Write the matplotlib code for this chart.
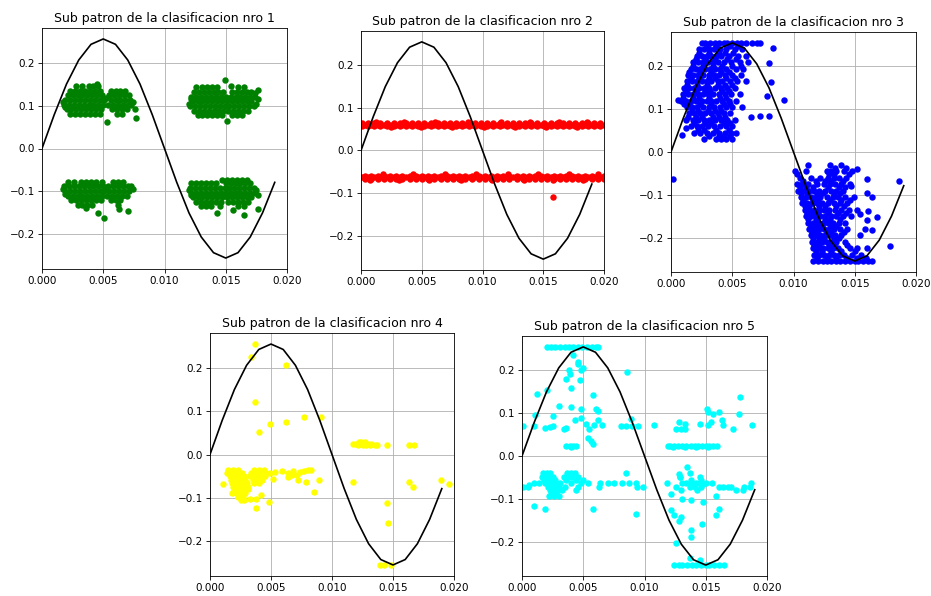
import matplotlib
matplotlib.use("Agg")
import matplotlib.pyplot as plt

# ---------------- reference signal ----------------
t = [0.000, 0.001, 0.002, 0.003, 0.004, 0.005, 0.006, 0.007, 0.008, 0.009,
     0.010, 0.011, 0.012, 0.013, 0.014, 0.015, 0.016, 0.017, 0.018, 0.019]
signal = [0.0, 0.0788, 0.150, 0.206, 0.2425, 0.255, 0.2425, 0.206, 0.150, 0.0788,
          0.0, -0.0788, -0.150, -0.206, -0.2425, -0.255, -0.2425, -0.206, -0.150, -0.0788]

titles = ["Sub patron de la clasificacion nro 1", "Sub patron de la clasificacion nro 2",
          "Sub patron de la clasificacion nro 3", "Sub patron de la clasificacion nro 4",
          "Sub patron de la clasificacion nro 5"]
colors = ["green", "red", "blue", "yellow", "cyan"]
xticks = [0.000, 0.005, 0.010, 0.015, 0.020]
xtick_labels = ["0.000", "0.005", "0.010", "0.015", "0.020"]

# ---------------- cluster 1 (rows: y, [x ...]) ----------------
c1_rows = [
    (0.146, [0.0028, 0.0033, 0.0038, 0.0042, 0.0046]),
    (0.135, [0.0023, 0.0027, 0.0031, 0.0035, 0.0039, 0.0043, 0.0047, 0.0056, 0.0060, 0.0064, 0.0068]),
    (0.124, [0.0021, 0.0025, 0.0029, 0.0033, 0.0037, 0.0041, 0.0045, 0.0049, 0.0055, 0.0059, 0.0063, 0.0067, 0.0071]),
    (0.113, [0.0019, 0.0023, 0.0027, 0.0031, 0.0035, 0.0039, 0.0043, 0.0047, 0.0051, 0.0056, 0.0060, 0.0064, 0.0068, 0.0072]),
    (0.102, [0.0018, 0.0022, 0.0026, 0.0030, 0.0034, 0.0038, 0.0042, 0.0046, 0.0050, 0.0054, 0.0058, 0.0062, 0.0066, 0.0070, 0.0073]),
    (0.091, [0.0020, 0.0024, 0.0028, 0.0032, 0.0036, 0.0040, 0.0044, 0.0048, 0.0057, 0.0061, 0.0065, 0.0069]),
    (0.081, [0.0023, 0.0027, 0.0031, 0.0035, 0.0039, 0.0043, 0.0047, 0.0061, 0.0065]),
    (-0.078, [0.0021, 0.0026, 0.0032, 0.0036, 0.0040, 0.0044, 0.0049, 0.0058, 0.0062, 0.0066]),
    (-0.088, [0.0018, 0.0022, 0.0026, 0.0030, 0.0034, 0.0038, 0.0042, 0.0046, 0.0050, 0.0054, 0.0058, 0.0062, 0.0066, 0.0070, 0.0073]),
    (-0.099, [0.0019, 0.0023, 0.0027, 0.0031, 0.0035, 0.0039, 0.0043, 0.0047, 0.0051, 0.0055, 0.0059, 0.0063, 0.0067, 0.0071]),
    (-0.110, [0.0021, 0.0025, 0.0029, 0.0033, 0.0037, 0.0041, 0.0045, 0.0049, 0.0053, 0.0057, 0.0061, 0.0065, 0.0069]),
    (-0.121, [0.0024, 0.0028, 0.0032, 0.0036, 0.0040, 0.0044, 0.0048, 0.0056, 0.0060, 0.0064]),
    (-0.131, [0.0029, 0.0033, 0.0037, 0.0041, 0.0062]),
    (0.142, [0.0126, 0.0131, 0.0135, 0.0139, 0.0143, 0.0160, 0.0165]),
    (0.132, [0.0124, 0.0128, 0.0132, 0.0136, 0.0140, 0.0144, 0.0148, 0.0155, 0.0159, 0.0163, 0.0167, 0.0171]),
    (0.121, [0.0122, 0.0126, 0.0130, 0.0134, 0.0138, 0.0142, 0.0146, 0.0150, 0.0154, 0.0158, 0.0162, 0.0166, 0.0170, 0.0174]),
    (0.110, [0.0123, 0.0127, 0.0131, 0.0135, 0.0139, 0.0143, 0.0147, 0.0151, 0.0155, 0.0159, 0.0163, 0.0167, 0.0171]),
    (0.099, [0.0121, 0.0125, 0.0129, 0.0133, 0.0137, 0.0141, 0.0145, 0.0149, 0.0153, 0.0157, 0.0161, 0.0165, 0.0169, 0.0173]),
    (0.088, [0.0124, 0.0128, 0.0132, 0.0136, 0.0140, 0.0144, 0.0148, 0.0152, 0.0156, 0.0160, 0.0164, 0.0168]),
    (0.078, [0.0127, 0.0131, 0.0135, 0.0139, 0.0143, 0.0147, 0.0155, 0.0159, 0.0163]),
    (-0.074, [0.0147, 0.0151, 0.0155, 0.0159, 0.0163, 0.0167]),
    (-0.081, [0.0122, 0.0126, 0.0130, 0.0134, 0.0138, 0.0142, 0.0150, 0.0154, 0.0158, 0.0162, 0.0166, 0.0170]),
    (-0.092, [0.0121, 0.0125, 0.0129, 0.0133, 0.0137, 0.0141, 0.0145, 0.0149, 0.0153, 0.0157, 0.0161, 0.0165, 0.0169, 0.0173]),
    (-0.103, [0.0122, 0.0126, 0.0130, 0.0134, 0.0138, 0.0142, 0.0146, 0.0150, 0.0154, 0.0158, 0.0162, 0.0166, 0.0170, 0.0174]),
    (-0.114, [0.0123, 0.0127, 0.0131, 0.0135, 0.0139, 0.0143, 0.0147, 0.0151, 0.0155, 0.0159, 0.0163, 0.0167, 0.0171]),
    (-0.125, [0.0126, 0.0130, 0.0134, 0.0138, 0.0142, 0.0146, 0.0152, 0.0156, 0.0160, 0.0164, 0.0168]),
    (-0.135, [0.0130, 0.0134, 0.0138, 0.0145, 0.0160, 0.0165]),
]
c1_extra_x = [0.0076, 0.0077, 0.0053, 0.0045, 0.0046, 0.0051, 0.0070, 0.0063, 0.0036,
              0.0149, 0.0154, 0.0176, 0.0151, 0.0174, 0.0143, 0.0165, 0.0176, 0.0156,
              0.0017, 0.0019, 0.0052, 0.0074, 0.0017, 0.0019, 0.0052, 0.0074,
              0.0120, 0.0122, 0.0175, 0.0176, 0.0120, 0.0122, 0.0175, 0.0176]
c1_extra_y = [0.092, 0.072, 0.061, 0.149, -0.150, -0.161, -0.146, -0.140, -0.138,
              0.160, 0.146, 0.137, 0.063, 0.129, -0.150, -0.154, -0.141, -0.143,
              0.108, 0.096, 0.118, 0.108, -0.094, -0.105, -0.093, -0.095,
              0.104, 0.115, 0.104, 0.115, -0.097, -0.109, -0.097, -0.109]

# ---------------- cluster 2 ----------------
band_x_a = [0.0001, 0.0006, 0.0011, 0.0016, 0.0021, 0.0027, 0.0032, 0.0037, 0.0042, 0.0047,
            0.0052, 0.0058, 0.0063, 0.0068, 0.0073, 0.0078, 0.0083, 0.0089, 0.0094, 0.0099,
            0.0104, 0.0109, 0.0114, 0.0120, 0.0125, 0.0130, 0.0135, 0.0140, 0.0145, 0.0151,
            0.0156, 0.0161, 0.0166, 0.0171, 0.0176, 0.0182, 0.0187, 0.0192, 0.0197]
band_x_b = [0.0003, 0.0008, 0.0014, 0.0019, 0.0024, 0.0029, 0.0034, 0.0040, 0.0045, 0.0050,
            0.0055, 0.0060, 0.0066, 0.0071, 0.0076, 0.0081, 0.0086, 0.0091, 0.0097, 0.0102,
            0.0107, 0.0112, 0.0117, 0.0122, 0.0128, 0.0133, 0.0138, 0.0143, 0.0148, 0.0153,
            0.0159, 0.0164, 0.0169, 0.0174, 0.0179, 0.0184, 0.0190, 0.0195, 0.0200]
c2_rows = [
    (0.057, band_x_a), (0.061, band_x_b), (0.065, band_x_a),
    (0.068, [0.0012, 0.0035, 0.0061, 0.0088, 0.0115, 0.0139, 0.0163, 0.0186]),
    (0.054, [0.0025, 0.0049, 0.0075, 0.0101, 0.0127, 0.0152, 0.0178]),
    (-0.059, band_x_b), (-0.063, band_x_a), (-0.067, band_x_b),
    (-0.056, [0.0018, 0.0043, 0.0069, 0.0095, 0.0121, 0.0146, 0.0171, 0.0195]),
    (-0.070, [0.0007, 0.0031, 0.0056, 0.0082, 0.0108, 0.0134, 0.0158, 0.0183]),
]
c2_extra_x = [0.0158]
c2_extra_y = [-0.108]

# ---------------- cluster 3 ----------------
c3_rows = [
    (0.255, [0.0025, 0.0028, 0.0032, 0.0036, 0.0039, 0.0043, 0.0046, 0.0050, 0.0054, 0.0057, 0.0061, 0.0066, 0.0070, 0.0073]),
    (0.247, [0.0029, 0.0037, 0.0048, 0.0055]),
    (0.240, [0.0023, 0.0027, 0.0031, 0.0035, 0.0040, 0.0045, 0.0052, 0.0058]),
    (0.232, [0.0023, 0.0031, 0.0039, 0.0044, 0.0051]),
    (0.225, [0.0021, 0.0025, 0.0029, 0.0033, 0.0037, 0.0041, 0.0047, 0.0055, 0.0061]),
    (0.217, [0.0020, 0.0028, 0.0036, 0.0046, 0.0053]),
    (0.210, [0.0018, 0.0022, 0.0026, 0.0030, 0.0034, 0.0038, 0.0043, 0.0049, 0.0056, 0.0063]),
    (0.202, [0.0018, 0.0026, 0.0034, 0.0042, 0.0050, 0.0057]),
    (0.195, [0.0016, 0.0020, 0.0024, 0.0028, 0.0032, 0.0036, 0.0040, 0.0045, 0.0053, 0.0059]),
    (0.187, [0.0015, 0.0024, 0.0033, 0.0041, 0.0047]),
    (0.180, [0.0014, 0.0018, 0.0022, 0.0026, 0.0031, 0.0035, 0.0039, 0.0044, 0.0050, 0.0057]),
    (0.172, [0.0016, 0.0023, 0.0031, 0.0036, 0.0045, 0.0052]),
    (0.165, [0.0013, 0.0017, 0.0021, 0.0025, 0.0029, 0.0033, 0.0038, 0.0042, 0.0048, 0.0054, 0.0061]),
    (0.157, [0.0013, 0.0021, 0.0029, 0.0038, 0.0044, 0.0050]),
    (0.150, [0.0011, 0.0015, 0.0019, 0.0023, 0.0027, 0.0031, 0.0036, 0.0041, 0.0046, 0.0052]),
    (0.142, [0.0012, 0.0020, 0.0028, 0.0032, 0.0042, 0.0047]),
    (0.135, [0.0010, 0.0014, 0.0018, 0.0022, 0.0026, 0.0030, 0.0034, 0.0039, 0.0044, 0.0049, 0.0056]),
    (0.127, [0.0010, 0.0018, 0.0023, 0.0031, 0.0040, 0.0045]),
    (0.120, [0.0008, 0.0012, 0.0016, 0.0020, 0.0025, 0.0029, 0.0033, 0.0037, 0.0042, 0.0047, 0.0053]),
    (0.112, [0.0011, 0.0015, 0.0024, 0.0033, 0.0043, 0.0048]),
    (0.105, [0.0013, 0.0017, 0.0021, 0.0026, 0.0031, 0.0035, 0.0040, 0.0045, 0.0050, 0.0058]),
    (0.097, [0.0017, 0.0022, 0.0030, 0.0036, 0.0041]),
    (0.090, [0.0015, 0.0019, 0.0024, 0.0028, 0.0033, 0.0038, 0.0043, 0.0048]),
    (0.082, [0.0014, 0.0020, 0.0025, 0.0034, 0.0039, 0.0044]),
    (0.075, [0.0012, 0.0018, 0.0022, 0.0027, 0.0031, 0.0036, 0.0041, 0.0046, 0.0052]),
    (0.067, [0.0019, 0.0028, 0.0033, 0.0043, 0.0048]),
    (0.060, [0.0016, 0.0021, 0.0025, 0.0030, 0.0035, 0.0040, 0.0045, 0.0050]),
    (0.052, [0.0022, 0.0027, 0.0037, 0.0047]),
    (0.045, [0.0019, 0.0024, 0.0029, 0.0034, 0.0039, 0.0044, 0.0049, 0.0053]),
    (0.037, [0.0031, 0.0039, 0.0043, 0.0048]),
    (0.030, [0.0027, 0.0037, 0.0041, 0.0045, 0.0050]),
    (-0.255, [0.0116, 0.0120, 0.0124, 0.0127, 0.0131, 0.0135, 0.0138, 0.0142, 0.0146, 0.0150, 0.0153, 0.0157, 0.0161, 0.0164]),
    (-0.247, [0.0119, 0.0127, 0.0135, 0.0144, 0.0152, 0.0159]),
    (-0.240, [0.0117, 0.0121, 0.0125, 0.0129, 0.0133, 0.0137, 0.0141, 0.0148, 0.0155]),
    (-0.232, [0.0118, 0.0123, 0.0131, 0.0139, 0.0150]),
    (-0.225, [0.0116, 0.0120, 0.0124, 0.0128, 0.0132, 0.0136, 0.0146, 0.0152]),
    (-0.217, [0.0117, 0.0121, 0.0129, 0.0133, 0.0144]),
    (-0.210, [0.0115, 0.0119, 0.0123, 0.0127, 0.0131, 0.0135, 0.0142]),
    (-0.202, [0.0116, 0.0121, 0.0125, 0.0133, 0.0137]),
    (-0.195, [0.0114, 0.0118, 0.0122, 0.0126, 0.0130, 0.0134, 0.0139]),
    (-0.187, [0.0115, 0.0119, 0.0127, 0.0131, 0.0141]),
    (-0.180, [0.0113, 0.0117, 0.0121, 0.0125, 0.0129, 0.0133, 0.0138, 0.0144]),
    (-0.172, [0.0114, 0.0119, 0.0123, 0.0131, 0.0135]),
    (-0.165, [0.0112, 0.0116, 0.0120, 0.0124, 0.0128, 0.0132, 0.0137, 0.0142]),
    (-0.157, [0.0112, 0.0118, 0.0126, 0.0130, 0.0138]),
    (-0.150, [0.0110, 0.0114, 0.0118, 0.0122, 0.0126, 0.0131, 0.0135, 0.0140, 0.0147]),
    (-0.142, [0.0111, 0.0116, 0.0120, 0.0128, 0.0136, 0.0143]),
    (-0.135, [0.0109, 0.0113, 0.0117, 0.0121, 0.0125, 0.0129, 0.0134, 0.0139, 0.0145, 0.0152]),
    (-0.127, [0.0109, 0.0113, 0.0121, 0.0126, 0.0135, 0.0141]),
    (-0.120, [0.0107, 0.0111, 0.0115, 0.0119, 0.0123, 0.0128, 0.0133, 0.0138, 0.0144]),
    (-0.112, [0.0108, 0.0116, 0.0120, 0.0130, 0.0139, 0.0146]),
    (-0.105, [0.0106, 0.0110, 0.0114, 0.0118, 0.0122, 0.0127, 0.0132, 0.0136, 0.0142, 0.0149]),
    (-0.097, [0.0106, 0.0111, 0.0119, 0.0124, 0.0133, 0.0138]),
    (-0.090, [0.0104, 0.0108, 0.0113, 0.0117, 0.0121, 0.0126, 0.0131, 0.0135, 0.0140]),
    (-0.082, [0.0105, 0.0110, 0.0116, 0.0128, 0.0137, 0.0142]),
    (-0.075, [0.0103, 0.0107, 0.0112, 0.0119, 0.0125, 0.0130, 0.0134, 0.0139, 0.0146]),
    (-0.067, [0.0108, 0.0118, 0.0126, 0.0131, 0.0140]),
    (-0.060, [0.0105, 0.0114, 0.0122, 0.0128, 0.0133, 0.0137, 0.0143]),
    (-0.052, [0.0103, 0.0129, 0.0133, 0.0145]),
    (-0.045, [0.0101, 0.0110, 0.0127, 0.0131, 0.0135, 0.0141, 0.0148]),
    (-0.037, [0.0134, 0.0143]),
    (-0.030, [0.0112, 0.0130, 0.0139]),
]
c3_extra_x = [0.0002, 0.0092, 0.0083, 0.0080, 0.0082, 0.0080, 0.0073, 0.0065, 0.0078, 0.0009, 0.0012, 0.0006,
              0.0186, 0.0179, 0.0168, 0.0164, 0.0160, 0.0160, 0.0152, 0.0160, 0.0158, 0.0164, 0.0161,
              0.0154, 0.0160, 0.0154, 0.0147]
c3_extra_y = [-0.064, 0.121, 0.242, 0.209, 0.163, 0.085, 0.084, 0.081, 0.132, 0.040, 0.055, 0.121,
              -0.068, -0.220, -0.152, -0.106, -0.095, -0.064, -0.039, -0.160, -0.179, -0.183, -0.137,
              -0.195, -0.225, -0.145, -0.079]

# ---------------- cluster 4 ----------------
c4_rows = [
    (-0.035, [0.0015, 0.0019, 0.0023, 0.0036, 0.0040, 0.0044]),
    (-0.042, [0.0014, 0.0018, 0.0022, 0.0026, 0.0034, 0.0038, 0.0042, 0.0046, 0.0049]),
    (-0.050, [0.0016, 0.0020, 0.0024, 0.0028, 0.0033, 0.0037, 0.0041, 0.0045]),
    (-0.058, [0.0017, 0.0021, 0.0025, 0.0029, 0.0035, 0.0039, 0.0043]),
    (-0.066, [0.0018, 0.0022, 0.0026, 0.0030, 0.0036, 0.0040]),
    (-0.074, [0.0019, 0.0023, 0.0027, 0.0031]),
    (-0.082, [0.0020, 0.0024, 0.0028]),
    (-0.090, [0.0021, 0.0025, 0.0029]),
    (-0.098, [0.0023, 0.0027]),
    (-0.106, [0.0025, 0.0028]),
    (0.025, [0.0117, 0.0120, 0.0123, 0.0126, 0.0129, 0.0132]),
    (0.022, [0.0121, 0.0125, 0.0128, 0.0131, 0.0135, 0.0137, 0.0145, 0.0163, 0.0167]),
    (0.030, [0.0122, 0.0124, 0.0127]),
]
c4_extra_x = [0.0037, 0.0034, 0.0062, 0.0037, 0.0049, 0.0062, 0.0077, 0.0091, 0.0040,
              0.0011, 0.0085, 0.0089, 0.0080, 0.0083, 0.0072, 0.0079, 0.0048, 0.0038, 0.0038,
              0.0042, 0.0033, 0.0052, 0.0053, 0.0059, 0.0064, 0.0068, 0.0074, 0.0077, 0.0064,
              0.0067, 0.0071, 0.0018, 0.0031,
              0.0117, 0.0163, 0.0166, 0.0189, 0.0196, 0.0145, 0.0146, 0.0139, 0.0143, 0.0148]
c4_extra_y = [0.255, 0.226, 0.206, 0.121, 0.070, 0.076, 0.086, 0.086, 0.052,
              -0.067, -0.087, -0.059, -0.035, -0.035, -0.059, -0.063, -0.110, -0.124, -0.102,
              -0.093, -0.103, -0.057, -0.040, -0.039, -0.043, -0.039, -0.041, -0.039, -0.051,
              -0.047, -0.047, -0.090, -0.080,
              -0.063, -0.063, -0.075, -0.060, -0.067, -0.111, -0.157, -0.255, -0.255, -0.255]

# ---------------- cluster 5 ----------------
c5_rows = [
    (0.255, [0.0020, 0.0024, 0.0027, 0.0031, 0.0035, 0.0038, 0.0042, 0.0046, 0.0049, 0.0053, 0.0057, 0.0060, 0.0062]),
    (-0.255, [0.0124, 0.0128, 0.0131, 0.0135, 0.0139, 0.0142, 0.0146, 0.0150, 0.0153, 0.0157, 0.0161, 0.0165]),
    (0.069, [0.0001, 0.0010, 0.0025, 0.0081, 0.0085, 0.0090, 0.0095]),
    (0.024, [0.0036, 0.0039, 0.0042, 0.0044, 0.0119, 0.0121, 0.0124, 0.0127, 0.0131, 0.0134, 0.0138,
             0.0141, 0.0144, 0.0147, 0.0150, 0.0153, 0.0156, 0.0159]),
    (0.020, [0.0040, 0.0123, 0.0133, 0.0142, 0.0152]),
    (-0.040, [0.0017, 0.0020, 0.0023, 0.0037, 0.0040, 0.0043, 0.0085]),
    (-0.048, [0.0016, 0.0019, 0.0022, 0.0025, 0.0034, 0.0038, 0.0041, 0.0046, 0.0129, 0.0145]),
    (-0.056, [0.0018, 0.0021, 0.0024, 0.0027, 0.0036, 0.0044, 0.0050, 0.0138, 0.0146]),
    (-0.064, [0.0010, 0.0014, 0.0019, 0.0022, 0.0025, 0.0028, 0.0031, 0.0040, 0.0048, 0.0054, 0.0064,
              0.0070, 0.0075, 0.0082, 0.0087, 0.0093, 0.0118, 0.0131, 0.0134, 0.0139, 0.0142, 0.0145,
              0.0150, 0.0155]),
    (-0.072, [0.0005, 0.0021, 0.0024, 0.0027, 0.0030, 0.0035, 0.0046, 0.0063, 0.0094, 0.0099, 0.0126,
              0.0137, 0.0141, 0.0146, 0.0161, 0.0164, 0.0168, 0.0171, 0.0181, 0.0186]),
    (-0.080, [0.0023, 0.0026, 0.0029, 0.0033, 0.0044, 0.0130, 0.0143, 0.0175, 0.0180]),
    (-0.088, [0.0024, 0.0028, 0.0122]),
    (-0.094, [0.0022, 0.0026, 0.0030]),
]
c5_extra_x = [0.0001, 0.0006, 0.0011, 0.0012, 0.0020, 0.0019, 0.0023, 0.0025, 0.0030, 0.0034,
              0.0036, 0.0036, 0.0039, 0.0038, 0.0040, 0.0040, 0.0043, 0.0042, 0.0046, 0.0048,
              0.0050, 0.0046, 0.0047, 0.0048, 0.0048, 0.0052, 0.0058, 0.0055, 0.0059, 0.0062,
              0.0065, 0.0060, 0.0062, 0.0054, 0.0056, 0.0058, 0.0058, 0.0086, 0.0089, 0.0108,
              0.0126, 0.0130, 0.0133, 0.0128, 0.0133, 0.0145, 0.0152, 0.0154, 0.0156, 0.0161,
              0.0151, 0.0152, 0.0164, 0.0172, 0.0177, 0.0178, 0.0188, 0.0163,
              0.0010, 0.0019, 0.0093, 0.0135, 0.0128, 0.0137, 0.0129, 0.0138, 0.0148,
              0.0148, 0.0147, 0.0138, 0.0161, 0.0158, 0.0122, 0.0124, 0.0130, 0.0128, 0.0138,
              0.0138, 0.0126, 0.0137, 0.0145, 0.0131, 0.0158, 0.0187]
c5_extra_y = [-0.073, -0.067, 0.097, 0.144, 0.154, 0.066, 0.067, 0.093, 0.116, 0.062,
              0.066, 0.180, 0.191, 0.201, 0.158, 0.114, 0.085, 0.236, 0.220, 0.200,
              0.205, 0.216, 0.178, 0.110, 0.089, 0.075, 0.143, 0.064, 0.073, 0.085,
              0.072, 0.110, 0.106, 0.042, 0.035, 0.027, -0.124, 0.197, 0.086, 0.072,
              0.064, 0.064, 0.064, 0.080, 0.075, 0.075, 0.072, 0.080, 0.099, 0.104,
              0.110, 0.104, 0.073, 0.064, 0.099, 0.139, 0.072, 0.085,
              -0.116, -0.125, -0.135, -0.025, -0.042, -0.039, -0.050, -0.066, -0.066,
              -0.108, -0.158, -0.104, -0.124, -0.139, -0.127, -0.137, -0.143, -0.152, -0.174,
              -0.189, -0.203, -0.239, -0.242, -0.100, -0.093, -0.062]

clusters = [
    (c1_rows, c1_extra_x, c1_extra_y),
    (c2_rows, c2_extra_x, c2_extra_y),
    (c3_rows, c3_extra_x, c3_extra_y),
    (c4_rows, c4_extra_x, c4_extra_y),
    (c5_rows, c5_extra_x, c5_extra_y),
]


def expand(rows, ex, ey):
    xs, ys = [], []
    for y, row in rows:
        xs.extend(row)
        ys.extend([y] * len(row))
    return xs + list(ex), ys + list(ey)


W, H = 931, 596
fig = plt.figure(figsize=(W / 75, H / 75), dpi=75)

# axes boxes in pixels: left, top, right, bottom
boxes = [
    (42, 28, 287, 269),
    (361, 31, 604, 270),
    (671, 32, 916, 272),
    (210, 333, 454, 576),
    (522, 336, 767, 576),
]

for i, (l, tp, r, b) in enumerate(boxes):
    ax = fig.add_axes([l / W, 1 - b / H, (r - l) / W, (b - tp) / H])
    ax.set_axisbelow(True)
    rows, ex, ey = clusters[i]
    xs, ys = expand(rows, ex, ey)
    ax.scatter(xs, ys, s=38, c=colors[i], linewidths=0)
    ax.plot(t, signal, color="black", lw=1.6)
    ax.set_xlim(0, 0.02)
    ax.set_ylim(-0.2805, 0.2805)
    ax.set_xticks(xticks)
    ax.set_xticklabels(xtick_labels)
    ax.set_yticks([-0.2, -0.1, 0.0, 0.1, 0.2])
    ax.grid(True, color="#b0b0b0", lw=0.8)
    ax.set_title(titles[i], fontsize=12)
    ax.tick_params(labelsize=10)

fig.savefig("out.png", dpi=75)
